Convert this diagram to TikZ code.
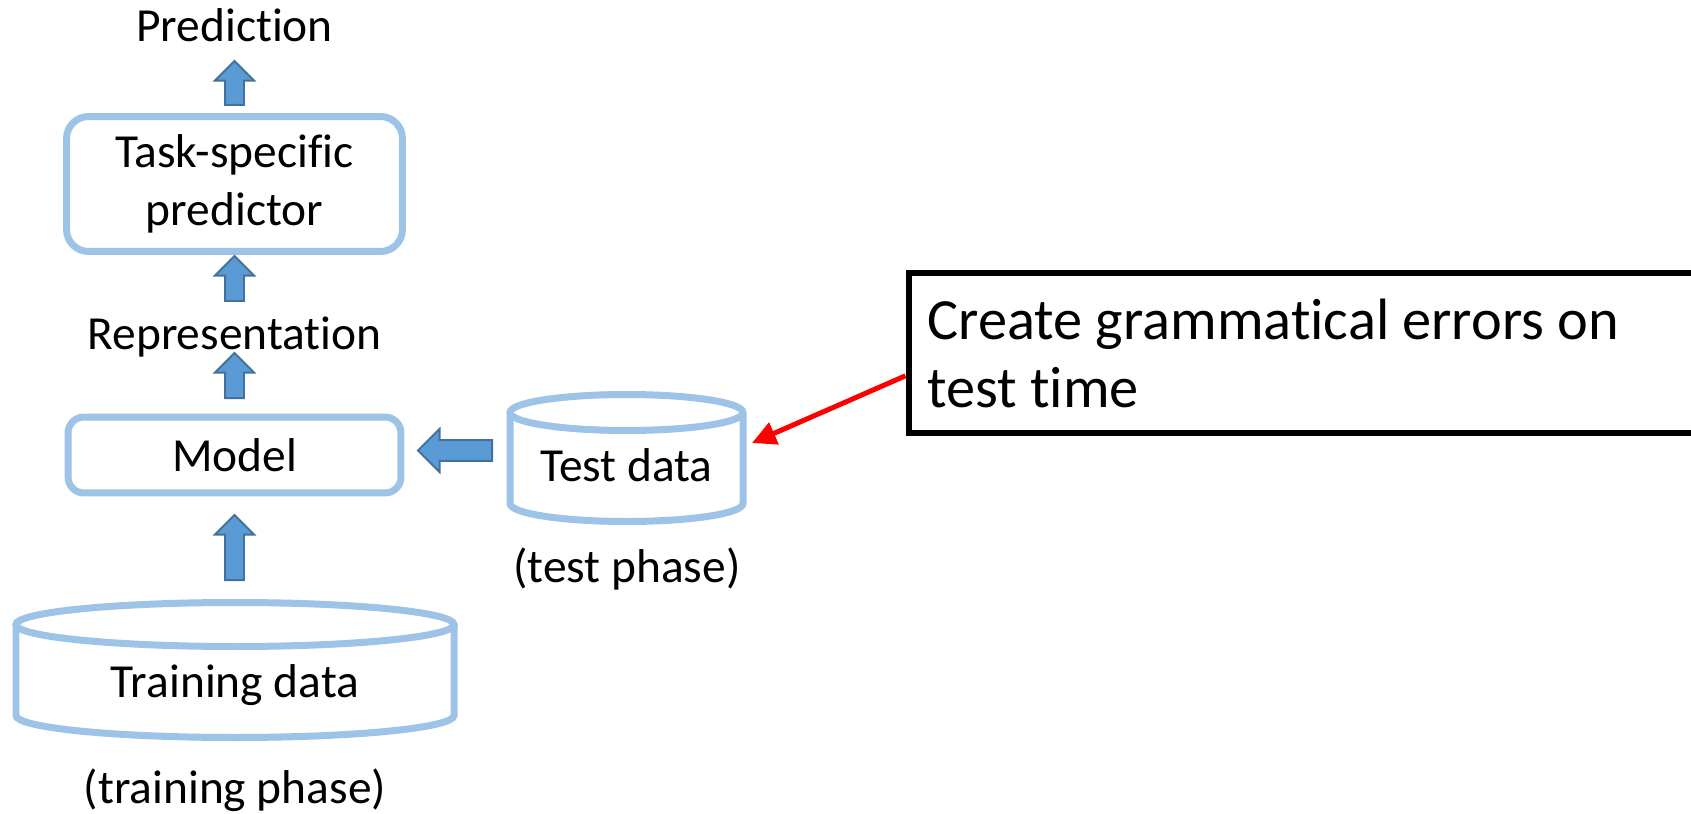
\documentclass[tikz,border=0pt]{standalone}
\usepackage{fontspec}
\setmainfont{Carlito}[Ligatures=NoCommon,Contextuals=NoAlternate]
\usetikzlibrary{arrows.meta,shapes.arrows,calc}
\definecolor{boxblue}{HTML}{9DC3E6}
\definecolor{arrowfill}{HTML}{5B9BD5}
\definecolor{arrowline}{HTML}{41719C}

\begin{document}
\begin{tikzpicture}
[x=0.02cm,y=-0.02cm,
  box/.style={draw=boxblue,line width=0.14cm,rounded corners=0.44cm,fill=white,inner sep=0pt,
    font=\fontsize{27}{33}\selectfont},
  db/.style={draw=boxblue,line width=0.14cm,fill=white},
  lbl/.style={anchor=base,inner sep=0pt,font=\fontsize{27}{33}\selectfont},
  fat/.style={single arrow,draw=arrowline,fill=arrowfill,line width=0.04cm,inner xsep=0pt,
    inner ysep=0.17cm,single arrow head extend=0.2cm,single arrow tip angle=90,anchor=tail},
  note/.style={draw=black,line width=0.12cm,fill=white,minimum width=17cm,minimum height=3.2cm,
    inner xsep=0.38cm,text width=16.24cm,align=flush left,font=\fontsize{33.2}{38.7}\selectfont},
  redarr/.style={draw=red,line width=0.1cm,-{Triangle[length=0.48cm,width=0.46cm]}}]
  \useasboundingbox (0,0) rectangle (1691,814);
  \clip (0,0) rectangle (1691,814);

  % cylinders
  \draw[db] (16,624.5) -- (16,715.5) arc[start angle=180,end angle=0,x radius=219,y radius=22] -- (454,624.5);
  \draw[db] (235,624.5) ellipse [x radius=219,y radius=22];
  \draw[db] (510,412.5) -- (510,503.5) arc[start angle=180,end angle=0,x radius=116.5,y radius=18] -- (743,412.5);
  \draw[db] (626.5,412.5) ellipse [x radius=116.5,y radius=18];

  \node[lbl] (pred) at (234.5,42) {Prediction};
  \node[box,minimum width=6.72cm,minimum height=2.7cm,align=center] (task) at (234.5,184) {Task-specific\\predictor};
  \node[lbl] (rep) at (234.5,350) {Representation};
  \node[box,rounded corners=0.32cm,minimum width=6.66cm,minimum height=1.52cm] (model) at (234.5,455) {Model};

  \node[lbl] (train) at (235,697) {Training data};
  \node[lbl] (trainph) at (235,803) {(training phase)};
  \node[lbl] (test) at (626.5,481) {Test data};
  \node[lbl] (testph) at (627,582) {(test phase)};

  \node[note,anchor=north west] (note) at (905.5,270) {Create grammatical errors on\\test time};

  \foreach \y/\h [count=\i] in {106/0.88cm,302/0.9cm,399/0.9cm,581/1.3cm}
    \node[fat,rotate=90,minimum height=\h] (up\i) at (234.5,\y) {};
  \node[fat,rotate=180,minimum height=1.48cm,inner ysep=0.19cm,single arrow head extend=0.22cm] (left) at (493,450.5) {};

  \coordinate (tdtip) at (752,443);
  \draw[redarr] ($(note.north west)!0.6375!(note.south west)$) -- (tdtip);

\end{tikzpicture}
\end{document}
